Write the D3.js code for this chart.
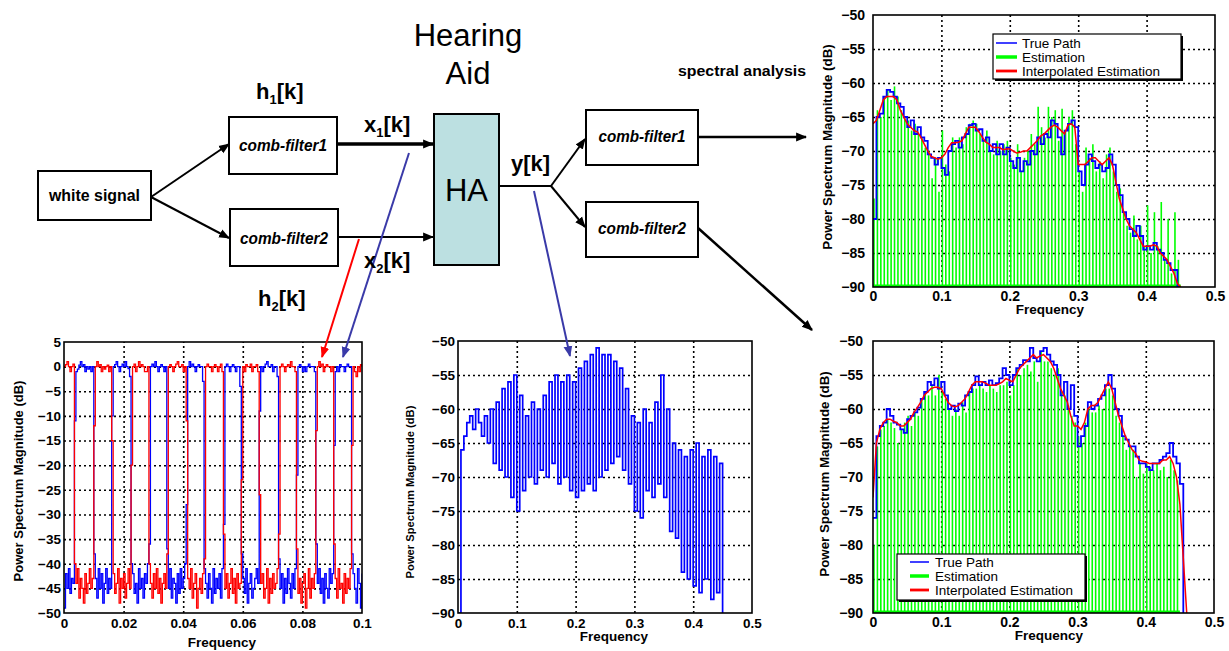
<!DOCTYPE html>
<html><head><meta charset="utf-8">
<script src="https://cdn.jsdelivr.net/npm/d3@7"></script>
<style>
body{margin:0;background:#fff;}
svg{display:block;font-family:"Liberation Sans",Arial,sans-serif;}
</style></head><body>
<svg id="c" width="1229" height="651"></svg>
<script>
// ---------------- DATA ----------------
// Chart 1: comb filter responses, frequency grid step
const combStep = 0.0005;
const combXTicks = [0, 0.02, 0.04, 0.06, 0.08, 0.1];
const combYTicks = [5, 0, -5, -10, -15, -20, -25, -30, -35, -40, -45, -50];
const combFilter1 = [ // blue
 -49,-42,-45,-41,-46,-43,-44,
 -11,
 -1,-0.5,0.3,1,0,0.4,-1,0,-0.5,0,-1,0,
 -38,
 -43,-47,-41,-45,-42,-48,-44,-41,-46,-43,-45,
 -10,
 0,0.4,1,0,-1,0,0.5,0,1,0,-0.4,-2,
 -40,
 -42,-46,-44,-48,-41,-45,-43,-47,-42,-44,-40,
 -36,
 0,0.5,0,1,0,-1,0,0.4,0,-1,0,
 -37,
 -45,-41,-47,-43,-44,-48,-42,-46,-41,-45,-43,-40,
 -28,
 0,1,0,0.5,0,-1,0,0.4,0,0,-3,
 -41,
 -44,-47,-42,-45,-48,-41,-46,-43,-45,-42,-47,-41,
 -32,
 0,0.5,0,-1,0,0.4,0,-1,0,0,-4,
 -38,
 -43,-46,-41,-48,-44,-42,-47,-45,-43,-41,-44,
 -9,
 0,-1,0,0.5,1,0,0,0.4,-1,0,0,-2,
 -39,
 -45,-42,-48,-43,-46,-41,-44,-47,-42,-45,-41,
 -22,
 0,0.4,0,-1,0,-1,0,0.5,0,0,0,-1,
 -36,
 -44,-41,-46,-43,-48,-42,-45,-47,-41,-44,-42,
 -16,
 -1,0,-1,0.4,0,0,-1,0,0.5,0,0,
 -38,
 -42,-45,-48,-41,-44,-49,-42
];
const combFilter2 = [ // red
 0,0.4,1,0,-1,0,0.5,
 -40,
 -44,-41,-47,-43,-45,-48,-42,-46,-44,-41,-45,-43,
 -12,
 0,1,0,0.4,-1,0,-0.5,0,0.3,-1,0,
 -15,
 -42,-46,-44,-41,-48,-43,-45,-42,-47,-44,-41,-45,
 -20,
 0,0.5,-1,0,1,0,0.4,0,-1,-1,0,
 -40,
 -44,-47,-42,-45,-41,-46,-43,-48,-44,-42,-45,
 -38,
 0,0.4,0,-1,0,0.5,1,0,0,0.4,-1,0,
 -11,
 -43,-45,-41,-47,-44,-42,-49,-45,-43,-46,-42,
 -39,
 0,0.5,0,0,-1,0,0.4,0,-1,0,0.5,-1,
 -34,
 -45,-42,-47,-44,-41,-46,-43,-48,-42,-45,-44,
 -23,
 0,-1,0.4,0,0,0.5,-1,0,0,0.4,-1,
 -26,
 -44,-42,-47,-45,-41,-48,-43,-46,-42,-45,-44,-41,
 -34,
 0,0.5,0,-1,0,0.4,0,1,0,0,-1,
 -37,
 -46,-43,-48,-44,-42,-49,-45,-41,-47,-43,-45,-42,
 -13,
 0,1,0,0.5,-1,0,0.4,0,0,-1,0,
 -36,
 -43,-47,-41,-45,-44,-48,-42,-46,-43,-45,-41,
 -16,
 0,-1,-2,0,-1,0.4,0
];

// Chart 2: hearing-aid output spectrum y[k]
const haStep = 0.005;
const haXTicks = [0, 0.1, 0.2, 0.3, 0.4, 0.5];
const haYTicks = [-50, -55, -60, -65, -70, -75, -80, -85, -90];
const haOutput = [
 -90,-66,-64,-62,-61,-63,-60,-62,-64,-61,
 -65,-60,-68,-59,-69,-57,-70,-56,-73,-55,
 -75,-58,-72,-61,-70,-59,-71,-60,-69,-58,
 -70,-56,-68,-55,-71,-56,-70,-55,-72,-56,
 -73,-54,-72,-53,-71,-52,-72,-51,-70,-52,
 -69,-52,-68,-53,-67,-54,-69,-57,-71,-61,
 -75,-62,-76,-60,-72,-62,-73,-59,-71,-55,
 -73,-60,-78,-65,-79,-66,-84,-67,-85,-66,
 -86,-65,-87,-67,-85,-66,-88,-67,-87,-68,
 -90
];

// Charts 3 & 4: path estimation (comb-filter1 / comb-filter2)
const estStep = 0.005;
const estXTicks = [0, 0.1, 0.2, 0.3, 0.4, 0.5];
const estYTicks = [-50, -55, -60, -65, -70, -75, -80, -85, -90];
const seriesNames = ["True Path", "Estimation", "Interpolated Estimation"];

const path1True = [
 -80,-65,-64.5,-62,-61,-61.3,-62,-63,-63.5,-65,
 -66.5,-65.5,-67.5,-66.5,-68,-68.5,-70.5,-71,-72,-71,
 -72.5,-73.5,-70,-69,-68.5,-69.5,-68,-67.5,-66.2,-66,
 -67,-66.8,-68.5,-68,-70,-69,-70.5,-69,-70.5,-69.5,
 -71.5,-72.5,-71,-73,-71.5,-72,-70,-70.5,-68,-69,
 -67.5,-68,-65.5,-66,-68,-70.5,-67,-66,-65.5,-66.5,
 -73,-75,-72,-70.5,-71.5,-72.5,-72,-73,-72.5,-70.5,
 -72,-75,-76.5,-79,-80,-81.5,-82.5,-81,-82.5,-84.5,
 -84,-84.5,-83.5,-84.5,-85,-86,-86.5,-87.5,-87.5,-90,
 -90
];
const path1Est = [
 -77,-64,-65,-62,-61,-62.5,-60.5,-62,-64,-65,
 -65.5,-67,-66,-67.5,-68,-69.5,-70,-74,-71,-76,
 -67,-72,-73,-68,-69.5,-68,-69,-66.5,-66,-65.5,
 -66,-67.5,-68.5,-67,-70,-70.5,-68.5,-70,-69,-68.5,
 -71,-72,-69,-73,-71,-70,-67.5,-69,-63.5,-66.5,
 -68,-63.5,-65,-64,-68.5,-63.8,-67,-65,-64,-69,
 -73,-76,-69.5,-71,-69,-73,-71.5,-74,-70.5,-69.5,
 -73,-76,-75.5,-79,-81,-82,-79.5,-83,-81,-84,
 -78,-85,-79,-84,-77.5,-86,-80,-88,-79,-86,
 -90
];
const path1Interp = [
 -66,-65.5,-64,-62.5,-62,-62,-62,-62.5,-64,-65,
 -66,-66.5,-67,-67.2,-68,-69,-70,-70.8,-71,-71.2,
 -71,-70.5,-69.5,-68.8,-68.8,-68.7,-68.5,-67.5,-66.5,-66.5,
 -66.5,-67.2,-68,-68.7,-69,-69.5,-69.5,-69.5,-69.8,-69.7,
 -69.7,-70,-70.3,-70.2,-70,-70,-69.5,-69,-68.5,-67.8,
 -67.5,-67,-66.5,-66.2,-66.5,-67,-67.5,-66.2,-66,-66.5,
 -72,-72,-72,-71.5,-71,-71,-71.5,-72,-71.5,-71,
 -72,-74.5,-77,-78.5,-80,-81,-81.5,-82,-83,-84,
 -84,-84,-83.8,-84,-85,-85.5,-86,-87,-88,-89.5,
 -90
];
const path2True = [
 -76,-64,-62.5,-62,-60,-61,-62,-62.3,-63,-63.5,
 -61.5,-61,-60.5,-59.8,-58.5,-57.5,-56,-56.5,-55.5,-57,
 -56,-58,-60,-59.5,-60.3,-59.2,-59.5,-58,-57.5,-56.5,
 -55.2,-56.5,-56,-56.5,-55.8,-56.5,-56.2,-55.5,-54,-55,
 -56.5,-55,-54,-53.5,-52.8,-53,-51,-52.5,-53,-51.5,
 -51,-52,-53,-53.5,-55,-58,-56,-60,-56.5,-61,
 -65.5,-64,-62.5,-59,-60,-59.5,-58.5,-58,-56.5,-55,
 -57,-60,-61,-64,-64.5,-65.5,-65.5,-67,-68,-68,
 -68.5,-69,-68,-68,-67.5,-67,-66.5,-65,-67,-68,
 -71,-90
];
const path2Est = [
 -80,-65.5,-63,-62.5,-61.5,-62,-62.8,-65,-63,-62,
 -61,-62.5,-60.5,-61,-58.5,-57.5,-58,-56.5,-58,-55,
 -57.5,-58.5,-60,-61,-60,-61,-59,-60.5,-57.5,-57,
 -57,-56.5,-57,-57.5,-56.5,-57,-57.5,-56.5,-56.5,-56,
 -58,-56.5,-54,-55,-54,-53.5,-54.5,-53,-56,-51.5,
 -53,-53,-54,-55,-54,-57.5,-58,-59.5,-61,-62,
 -64,-65,-62,-60,-60.5,-60.5,-59.5,-60,-57,-57,
 -58,-61,-62,-64,-66,-65.5,-66,-70,-68,-69.5,
 -68,-68.5,-69,-68,-69,-68.5,-70,-67.5,-69,-70.5,
 -90
];
const path2Interp = [
 -73,-65,-63,-62,-61.5,-61.5,-61.8,-62,-62.5,-62.5,
 -62,-61.5,-60.5,-59.8,-59,-58,-57.5,-57,-56.8,-56.8,
 -57,-58,-59,-59.5,-59.7,-59.5,-59,-58.5,-57.5,-56.5,
 -56,-56,-56,-56.2,-56.5,-56.5,-56.5,-56.3,-56,-55.5,
 -55.8,-56,-55,-54,-53.5,-53,-52.5,-52,-52.5,-52.2,
 -52,-52.5,-53,-54,-55.5,-57,-58,-59,-61,-62.5,
 -62.5,-63,-62,-60,-59.5,-59.5,-59,-58,-57,-56,
 -57,-59,-61,-62.5,-64,-65,-66,-66.5,-67.5,-67.7,
 -67.8,-68,-68,-68,-68,-67.5,-67.5,-67,-68,-70,
 -74,-82,-90
];

// ---------------- DRAWING ----------------
const svg = d3.select("#c");
const BLUE = "#0000ff", RED = "#ff0000", GREEN = "#00ff00", DBLUE = "#3a3aa8";
const defs = svg.append("defs");
function marker(id, color) {
  defs.append("marker").attr("id", id).attr("viewBox", "0 0 10 10")
    .attr("refX", 9).attr("refY", 5).attr("markerWidth", 11).attr("markerHeight", 11)
    .attr("markerUnits", "userSpaceOnUse").attr("orient", "auto")
    .append("path").attr("d", "M0,1L10,5L0,9z").attr("fill", color);
}
marker("mk", "#000"); marker("mr", RED); marker("mb", DBLUE);

let clipId = 0;
function panel(cfg) {
  const x = d3.scaleLinear().domain(cfg.xd).range([cfg.l, cfg.r]);
  const y = d3.scaleLinear().domain(cfg.yd).range([cfg.b, cfg.t]);
  const g = svg.append("g");
  const w = cfg.r - cfg.l, h = cfg.b - cfg.t;
  const gx = g.append("g").attr("transform", `translate(0,${cfg.b})`)
    .call(d3.axisBottom(x).tickValues(cfg.xt.filter(v => v > cfg.xd[0] && v < cfg.xd[1])).tickSize(-h).tickFormat(""));
  const gy = g.append("g").attr("transform", `translate(${cfg.l},0)`)
    .call(d3.axisLeft(y).tickValues(cfg.yt.filter(v => v > cfg.yd[0] && v < cfg.yd[1])).tickSize(-w).tickFormat(""));
  [gx, gy].forEach(a => {
    a.select(".domain").remove();
    a.selectAll("line").attr("stroke", "#000").attr("stroke-width", 1.6).attr("stroke-dasharray", "2,3");
  });
  const id = "clip" + (clipId++);
  defs.append("clipPath").attr("id", id).append("rect")
    .attr("x", cfg.l).attr("y", cfg.t - 1).attr("width", w).attr("height", h + 1);
  const plot = g.append("g").attr("clip-path", `url(#${id})`);
  const ax = g.append("g").attr("transform", `translate(0,${cfg.b})`)
    .call(d3.axisBottom(x).tickValues(cfg.xt).tickSize(0).tickPadding(cfg.xpad).tickFormat(cfg.xf));
  const ay = g.append("g").attr("transform", `translate(${cfg.l},0)`)
    .call(d3.axisLeft(y).tickValues(cfg.yt).tickSize(0).tickPadding(cfg.ypad).tickFormat(d3.format("d")));
  [ax, ay].forEach(a => {
    a.select(".domain").remove();
    a.selectAll("text").attr("font-family", "'Liberation Sans',Arial,sans-serif")
      .attr("font-size", cfg.fs).attr("font-weight", "bold").attr("fill", "#000");
  });
  g.append("text").attr("transform", `translate(${cfg.ylx},${cfg.yly}) rotate(-90)`)
    .attr("text-anchor", "middle").attr("font-size", cfg.ylfs).attr("font-weight", "bold")
    .text("Power Spectrum Magnitude (dB)");
  g.append("text").attr("x", cfg.xlx).attr("y", cfg.xly).attr("text-anchor", "middle")
    .attr("font-size", 13.5).attr("font-weight", "bold").text("Frequency");
  return {x, y, g, plot, frame: () => g.append("rect").attr("x", cfg.l).attr("y", cfg.t)
    .attr("width", w).attr("height", h).attr("fill", "none").attr("stroke", "#000").attr("stroke-width", 1.6)};
}

// Chart 1
{
  const p = panel({xd: [0, 0.1], yd: [-50, 5], l: 64, r: 362, t: 342, b: 613,
    xt: combXTicks, yt: combYTicks, xf: d => d === 0 ? "0" : d3.format(".2~f")(d),
    xpad: 5, ypad: 3, fs: 13.5, ylx: 23, yly: 481, ylfs: 13, xlx: 222, xly: 647});
  const line = d3.line().x((d, i) => p.x(i * combStep)).y(d => p.y(d)).curve(d3.curveStepAfter);
  p.plot.append("path").datum(combFilter1).attr("d", line).attr("fill", "none").attr("stroke", BLUE).attr("stroke-width", 1.3);
  p.plot.append("path").datum(combFilter2).attr("d", line).attr("fill", "none").attr("stroke", RED).attr("stroke-width", 1.3);
  p.frame();
}
// Chart 2
{
  const p = panel({xd: [0, 0.5], yd: [-90, -50], l: 458, r: 752, t: 341, b: 613,
    xt: haXTicks, yt: haYTicks, xf: d => d === 0 ? "0" : d3.format(".1~f")(d),
    xpad: 5, ypad: 3, fs: 13.5, ylx: 414, yly: 492, ylfs: 11.2, xlx: 614, xly: 641});
  const line = d3.line().x((d, i) => p.x(i * haStep)).y(d => p.y(d)).curve(d3.curveStepAfter);
  p.plot.append("path").datum(haOutput).attr("d", line).attr("fill", "none").attr("stroke", BLUE).attr("stroke-width", 1.7);
  p.frame();
}
function estPanel(cfg, trueP, estP, interpP, legend) {
  const p = panel(Object.assign({xd: [0, 0.5], yd: [-90, -50], xt: estXTicks, yt: estYTicks,
    xf: d => d === 0 ? "0" : d3.format(".1~f")(d), fs: 14}, cfg));
  const bx = (d, i) => p.x(i * estStep);
  p.plot.append("line").attr("x1", p.x(0)).attr("x2", p.x(0.45)).attr("y1", p.y(-90) - 1).attr("y2", p.y(-90) - 1)
    .attr("stroke", GREEN).attr("stroke-width", 3);
  p.plot.selectAll("line.est").data(estP).join("line").attr("class", "est")
    .attr("x1", (d, i) => bx(d, i) + 1).attr("x2", (d, i) => bx(d, i) + 1)
    .attr("y1", p.y(-90)).attr("y2", d => p.y(d)).attr("stroke", GREEN).attr("stroke-width", 1.6);
  const lt = d3.line().x(bx).y(d => p.y(d)).curve(d3.curveStepAfter);
  p.plot.append("path").datum(trueP).attr("d", lt).attr("fill", "none").attr("stroke", BLUE).attr("stroke-width", 1.8);
  const li = d3.line().x(bx).y(d => p.y(d));
  p.plot.append("path").datum(interpP).attr("d", li).attr("fill", "none").attr("stroke", RED).attr("stroke-width", 1.5);
  p.frame();
  const lg = svg.append("g");
  lg.append("rect").attr("x", legend.x + 2).attr("y", legend.y + 2).attr("width", legend.w).attr("height", legend.h).attr("fill", "#000");
  lg.append("rect").attr("x", legend.x).attr("y", legend.y).attr("width", legend.w).attr("height", legend.h)
    .attr("fill", "#fff").attr("stroke", "#000").attr("stroke-width", 1.2);
  const cols = [BLUE, GREEN, RED], wid = [1.5, 3.5, 2.8];
  seriesNames.forEach((n, i) => {
    const yy = legend.y + legend.r0 + i * legend.dr;
    lg.append("line").attr("x1", legend.x + legend.lx0).attr("x2", legend.x + legend.lx1)
      .attr("y1", yy).attr("y2", yy).attr("stroke", cols[i]).attr("stroke-width", wid[i]);
    lg.append("text").attr("x", legend.x + legend.tx).attr("y", yy + 5).attr("font-size", 13.5).text(n);
  });
}
estPanel({l: 873, r: 1215, t: 15, b: 287, xpad: 4, ypad: 8, ylx: 832, yly: 147, ylfs: 13.3, xlx: 1050, xly: 314},
  path1True, path1Est, path1Interp, {x: 993, y: 34, w: 188, h: 45, r0: 9, dr: 14, lx0: 3, lx1: 24, tx: 29});
estPanel({l: 873, r: 1214, t: 341, b: 613, xpad: 4, ypad: 10, ylx: 829, yly: 474, ylfs: 13.3, xlx: 1049, xly: 640},
  path2True, path2Est, path2Interp, {x: 897, y: 554, w: 188, h: 46, r0: 8, dr: 14, lx0: 13, lx1: 32, tx: 38});

// ---------------- BLOCK DIAGRAM ----------------
const dg = svg.append("g");
function box(x, y, w, h, label, opt = {}) {
  dg.append("rect").attr("x", x).attr("y", y).attr("width", w).attr("height", h)
    .attr("fill", opt.fill || "#fff").attr("stroke", "#000").attr("stroke-width", 2);
  if (label) {
    const t = dg.append("text").attr("x", x + w / 2).attr("y", opt.ty).attr("text-anchor", "middle")
      .attr("font-size", opt.fs || 17).attr("font-weight", opt.fw || "bold").attr("font-style", opt.it ? "italic" : "normal")
      .text(label);
    if (opt.tl) t.attr("textLength", opt.tl).attr("lengthAdjust", "spacingAndGlyphs");
  }
}
function arrow(x1, y1, x2, y2, col, w, mk) {
  const l = dg.append("line").attr("x1", x1).attr("y1", y1).attr("x2", x2).attr("y2", y2)
    .attr("stroke", col).attr("stroke-width", w);
  if (mk) l.attr("marker-end", `url(#${mk})`);
}
arrow(151, 197, 229, 144, "#000", 2, "mk");
arrow(151, 197, 229, 238, "#000", 2, "mk");
arrow(337, 144, 433, 144, "#000", 3.5, "mk");
arrow(338, 237, 433, 237, "#000", 2, "mk");
arrow(499, 186, 551, 186, "#000", 2, null);
arrow(551, 186, 585, 139, "#000", 2, "mk");
arrow(551, 186, 585, 227, "#000", 2, "mk");
arrow(698, 137, 806, 137, "#000", 2.5, "mk");
arrow(698, 228, 812, 330, "#000", 2.5, "mk");

box(38, 171, 113, 49, "white signal", {ty: 201, tl: 91});
box(229, 117, 108, 57, "comb-filter1", {it: true, ty: 151, tl: 88});
box(230, 209, 108, 57, "comb-filter2", {it: true, ty: 244, tl: 88});
box(434, 114, 65, 151, "HA", {fill: "#bce0e1", fw: "normal", fs: 31, ty: 201});
box(586, 110, 112, 55, "comb-filter1", {it: true, ty: 142, tl: 87});
box(586, 202, 112, 55, "comb-filter2", {it: true, ty: 234, tl: 88});

arrow(359, 239, 322, 357, RED, 2, "mr");
arrow(409, 153, 343, 357, DBLUE, 2, "mb");
arrow(534, 191, 570, 356, DBLUE, 2, "mb");

function subLabel(x, y, base, sub, rest) {
  const t = dg.append("text").attr("x", x).attr("y", y).attr("font-size", 22).attr("font-weight", "bold");
  t.append("tspan").text(base);
  if (sub) {
    t.append("tspan").attr("font-size", 13).attr("dy", 5).text(sub);
    t.append("tspan").attr("dy", -5).text(rest);
  } else t.append("tspan").text(rest);
}
subLabel(256, 99, "h", "1", "[k]");
subLabel(258, 306, "h", "2", "[k]");
subLabel(364, 132, "x", "1", "[k]");
subLabel(364, 268, "x", "2", "[k]");
subLabel(511, 171, "y", null, "[k]");
dg.append("text").attr("x", 468).attr("y", 46).attr("text-anchor", "middle").attr("font-size", 31).text("Hearing");
dg.append("text").attr("x", 468).attr("y", 84).attr("text-anchor", "middle").attr("font-size", 31).text("Aid");
dg.append("text").attr("x", 742).attr("y", 76).attr("text-anchor", "middle").attr("font-size", 15.5)
  .attr("font-weight", "bold").attr("textLength", 128).attr("lengthAdjust", "spacingAndGlyphs").text("spectral analysis");
</script>
</body></html>
